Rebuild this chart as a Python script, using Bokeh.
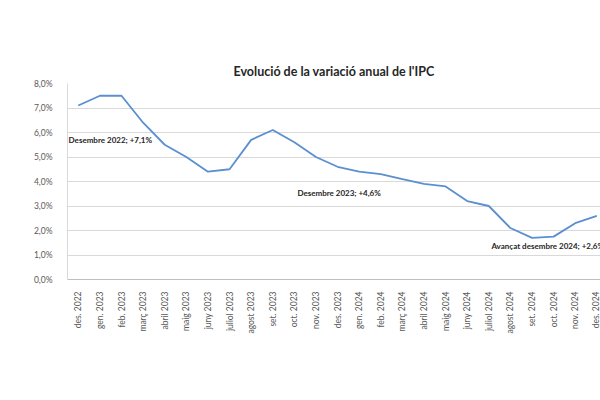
import math
from bokeh.plotting import figure
from bokeh.models import Range1d, FixedTicker, Label
from bokeh.embed import file_html
from bokeh.resources import INLINE

months = ["des. 2022", "gen. 2023", "feb. 2023", "març 2023", "abril 2023", "maig 2023",
          "juny 2023", "juliol 2023", "agost 2023", "set. 2023", "oct. 2023", "nov. 2023",
          "des. 2023", "gen. 2024", "feb. 2024", "març 2024", "abril 2024", "maig 2024",
          "juny 2024", "juliol 2024", "agost 2024", "set. 2024", "oct. 2024", "nov. 2024",
          "des. 2024"]
ipc = [7.1, 7.5, 7.5, 6.4, 5.5, 5.0, 4.4, 4.5, 5.7, 6.1, 5.6, 5.0,
       4.6, 4.4, 4.3, 4.1, 3.9, 3.8, 3.2, 3.0, 2.1, 1.7, 1.75, 2.3, 2.6]
y_ticks = [0, 1, 2, 3, 4, 5, 6, 7, 8]
y_tick_labels = ["0,0%", "1,0%", "2,0%", "3,0%", "4,0%", "5,0%", "6,0%", "7,0%", "8,0%"]
annotations = [
    ("Desembre 2022; +7,1%", -0.45, 5.7),
    ("Desembre 2023;  +4,6%", 10.14, 3.55),
    ("Avançat desembre 2024; +2,6%", 19.12, 1.36),
]

FONT = "Lato"
xs = list(range(len(months)))

p = figure(width=600, height=392, output_backend="svg", toolbar_location=None,
           x_range=Range1d(-0.5, 24.17), y_range=Range1d(0, 8),
           min_border_left=67, min_border_right=0, min_border_top=83, min_border_bottom=113,
           title="Evolució de la variació anual de l'IPC")
p.title.text_font = FONT
p.title.text_font_size = "12.5px"
p.title.text_font_style = "bold"
p.title.text_color = "#262626"
p.title.align = "center"
p.outline_line_color = None
p.background_fill_color = "white"
p.border_fill_color = "white"

p.line(xs, ipc, line_color="#5B8FD0", line_width=1.8)

# axes
p.xaxis.ticker = FixedTicker(ticks=xs)
p.xaxis.major_label_overrides = {i: m for i, m in enumerate(months)}
p.xaxis.major_label_orientation = math.pi / 2
p.xaxis.major_label_text_font = FONT
p.xaxis.major_label_text_font_size = "8.5px"
p.xaxis.major_label_text_color = "#595959"
p.xaxis.major_tick_line_color = None
p.xaxis.minor_tick_line_color = None
p.xaxis.axis_line_color = "#bfbfbf"
p.xaxis.major_label_standoff = 6

p.yaxis.ticker = FixedTicker(ticks=y_ticks)
p.yaxis.major_label_overrides = {t: l for t, l in zip(y_ticks, y_tick_labels)}
p.yaxis.major_label_text_font = FONT
p.yaxis.major_label_text_font_size = "8.5px"
p.yaxis.major_label_text_color = "#595959"
p.yaxis.major_tick_line_color = None
p.yaxis.minor_tick_line_color = None
p.yaxis.axis_line_color = "#d9d9d9"
p.yaxis.major_label_standoff = 9

p.xgrid.grid_line_color = None
p.ygrid.grid_line_color = "#d9d9d9"
p.ygrid.grid_line_width = 1

for txt, x, y in annotations:
    p.add_layout(Label(x=x, y=y, text=txt, text_font=FONT, text_font_size="8px",
                       text_font_style="bold", text_color="#262626",
                       text_baseline="middle", text_align="left"))

open("out.html", "w").write(file_html(p, INLINE))
